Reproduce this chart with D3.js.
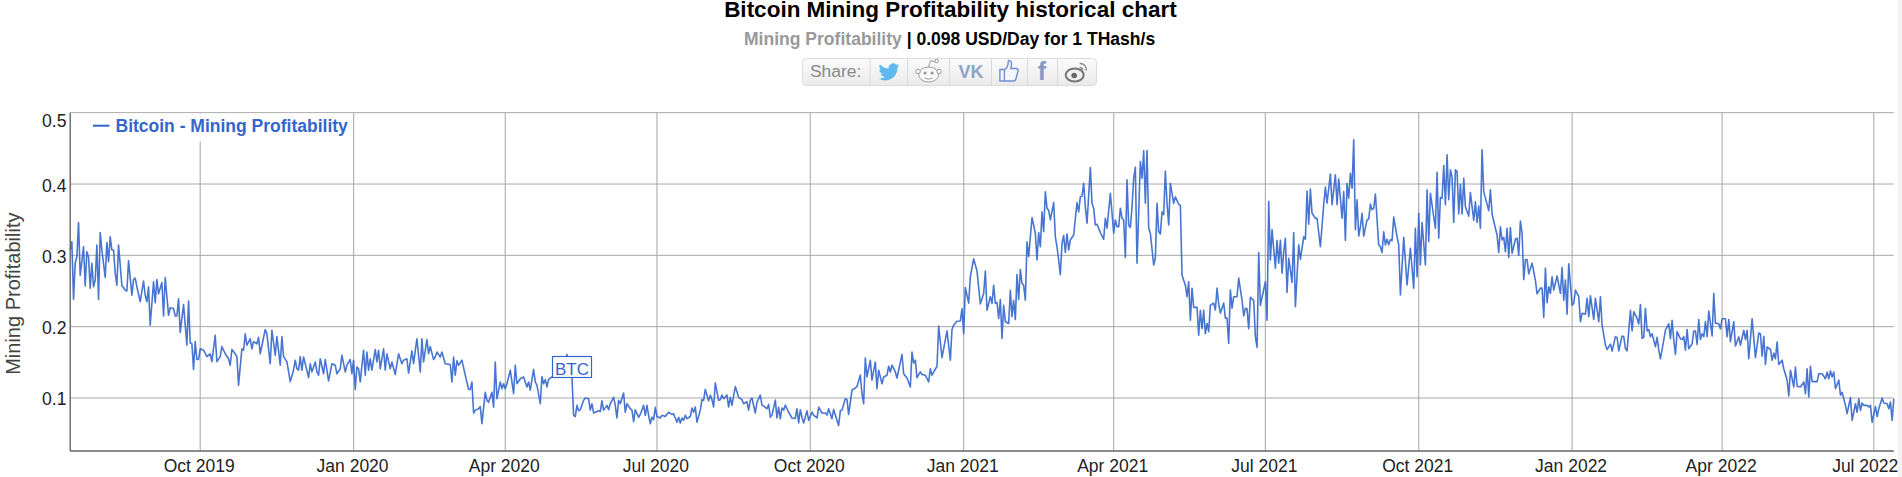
<!DOCTYPE html>
<html>
<head>
<meta charset="utf-8">
<title>Bitcoin Mining Profitability historical chart</title>
<script src="https://cdn.jsdelivr.net/npm/d3@7"></script>
<style>
  html, body { margin: 0; padding: 0; background: #fff; overflow: hidden; }
  svg { display: block; font-family: "Liberation Sans", Arial, sans-serif; }
</style>
</head>
<body>
<div id="chart"></div>
<script>
var seriesStart = "2019-07-15";
var seriesEnd = "2022-07-13";
var seriesName = "Bitcoin - Mining Profitability";
var xTicks = ["2019-10-01","2020-01-01","2020-04-01","2020-07-01","2020-10-01","2021-01-01","2021-04-01","2021-07-01","2021-10-01","2022-01-01","2022-04-01","2022-07-01"];
var yTicks = [0.1, 0.2, 0.3, 0.4, 0.5];
var shareIcons = ["twitter", "reddit", "vk", "like", "facebook", "weibo"];

// days since seriesStart
var dayOffsets = [
0,1,2,3,4,5,6,8,9,10,
11,12,13,14,15,16,17,18,19,21,
22,23,24,25,26,27,28,29,31,33,
34,35,37,38,39,40,42,44,45,46,
47,48,50,51,52,53,55,56,57,59,
60,62,63,64,65,66,68,70,71,72,
73,74,75,76,77,78,80,82,84,85,
87,88,90,91,93,95,96,97,99,100,
101,103,104,105,106,108,109,110,112,113,
114,117,118,120,121,123,124,126,127,128,
130,132,134,135,136,137,138,139,140,141,
143,144,145,147,148,149,150,152,153,155,
157,159,160,162,163,165,166,168,169,170,
171,172,173,174,176,177,178,179,180,181,
183,184,185,186,188,189,190,192,193,195,
197,199,200,202,203,205,206,207,208,210,
211,212,214,215,216,218,219,220,222,223,
225,228,229,230,231,232,233,235,237,239,
240,241,242,243,245,246,247,249,250,251,
253,254,255,256,258,259,260,261,262,264,
266,267,268,270,272,274,275,276,278,279,
280,282,283,284,285,286,287,289,292,295,
296,298,300,301,302,303,304,305,306,308,
309,311,312,313,314,315,317,318,319,320,
322,323,324,326,327,328,329,330,332,333,
334,336,337,338,339,341,342,344,345,346,
347,348,349,350,351,352,354,355,357,359,
361,362,364,365,366,367,368,369,370,372,
373,374,375,376,378,379,380,381,383,384,
385,386,387,389,390,391,392,394,395,396,
397,399,401,403,404,406,407,408,409,411,
412,414,415,417,418,419,420,421,423,424,
425,426,427,428,429,431,433,435,436,437,
438,439,440,442,443,445,446,448,449,451,
453,454,455,457,458,459,461,462,463,465,
466,467,469,471,472,474,475,476,477,478,
480,481,483,484,485,487,488,490,491,492,
493,495,496,499,500,502,504,505,506,507,
508,510,511,513,515,516,517,520,521,523,
526,528,529,530,532,534,535,536,537,539,
540,542,544,546,548,549,550,552,553,554,
555,556,557,558,559,560,561,563,564,565,
566,567,568,569,570,571,572,573,574,575,
577,579,580,581,582,583,584,585,586,587,
588,590,591,592,593,594,595,596,597,598,
599,600,602,604,605,606,607,608,609,610,
612,613,614,615,616,618,620,621,622,624,
626,627,628,629,630,631,632,633,634,635,
636,637,638,639,640,642,643,644,645,646,
647,648,650,651,652,653,654,655,656,657,
658,659,660,662,663,665,666,667,669,670,
671,672,673,674,676,677,678,679,680,681,
682,683,684,686,687,688,689,690,692,693,
694,695,696,697,698,700,701,703,704,705,
706,707,708,710,711,712,713,714,717,718,
719,720,721,723,724,725,726,727,728,729,
730,731,733,734,735,737,738,740,741,742,
743,744,745,747,748,750,752,753,754,756,
757,759,760,761,763,764,765,766,767,768,
769,770,771,772,773,774,775,776,778,779,
780,781,782,783,785,786,787,788,789,790,
791,792,793,794,796,797,798,800,802,804,
806,807,808,809,810,811,813,814,815,816,
818,819,820,821,822,823,824,825,826,827,
828,829,830,831,832,833,834,835,836,837,
839,840,842,843,844,845,846,847,848,851,
852,853,855,856,857,858,859,860,861,862,
863,864,865,867,868,869,870,871,872,873,
874,875,877,879,880,882,883,884,885,886,
887,888,889,890,892,894,895,896,897,898,
899,901,902,903,905,906,907,909,910,911,
912,914,915,917,918,919,921,922,924,925,
927,928,929,931,932,933,934,936,937,938,
940,941,942,943,944,945,946,947,948,949,
951,952,953,954,956,957,959,960,961,962,
963,964,966,967,968,969,970,971,973,974,
975,976,977,978,979,980,981,982,983,985,
986,987,989,990,991,993,994,995,996,998,
999,1001,1002,1004,1005,1006,1007,1009,1011,1013,
1014,1015,1016,1017,1018,1020,1021,1022,1023,1024,
1025,1027,1028,1030,1031,1032,1034,1035,1036,1038,
1040,1041,1042,1043,1044,1045,1048,1049,1051,1053,
1054,1055,1056,1057,1058,1059,1061,1062,1063,1065,
1066,1068,1069,1071,1072,1073,1074,1075,1076,1078,
1079,1080,1081,1083,1084,1085,1087,1088,1090,1091,
1092,1093,1094
];

// USD/Day for 1 THash/s, same order as dayOffsets
var profitability = [
.3075,.319,.238,.289,.298,.346,.272,.312,.257,.305,
.298,.254,.289,.256,.265,.3145,.238,.332,.3075,.269,
.318,.291,.326,.3075,.3075,.275,.258,.3145,.258,.251,
.25,.2925,.244,.266,.268,.256,.235,.264,.244,.235,
.256,.202,.263,.2335,.266,.246,.262,.215,.269,.216,
.2265,.2255,.215,.215,.239,.192,.231,.174,.236,.177,
.176,.14,.179,.154,.154,.169,.167,.158,.162,.151,
.188,.151,.158,.172,.162,.155,.146,.168,.162,.158,
.118,.169,.167,.19,.174,.183,.169,.179,.176,.185,
.162,.196,.19,.148,.195,.16,.186,.146,.186,.158,
.151,.123,.139,.153,.141,.139,.158,.139,.1575,.148,
.1285,.148,.1365,.1505,.1365,.132,.155,.134,.154,.124,
.148,.146,.134,.141,.16,.1365,.146,.154,.134,.153,
.112,.1435,.141,.1225,.167,.132,.1645,.139,.155,.139,
.168,.1505,.167,.141,.169,.139,.162,.141,.1505,.133,
.162,.148,.153,.155,.135,.166,.148,.166,.183,.1365,
.183,.1505,.182,.162,.172,.154,.1575,.1645,.1575,.1645,
.148,.147,.1225,.1575,.132,.152,.146,.153,.132,.112,
.112,.1225,.079,.083,.085,.088,.064,.108,.097,.094,
.108,.087,.1505,.099,.1225,.113,.12,.113,.12,.139,
.106,.146,.12,.127,.1295,.1155,.1225,.111,.14,.1225,
.118,.092,.13,.12,.126,.1155,.126,.1295,.136,.148,
.14,.161,.13,.13,.0757,.074,.0897,.082,.0836,.0967,
.1,.099,.083,.092,.079,.08,.082,.081,.096,.083,
.0897,.0836,.092,.101,.0897,.072,.0967,.092,.107,.08,
.092,.085,.083,.067,.0836,.073,.077,.0897,.0757,.0897,
.0757,.064,.073,.0696,.087,.074,.072,.0757,.074,.08,
.077,.078,.066,.073,.065,.072,.0686,.0757,.071,.074,
.086,.08,.0874,.066,.083,.0977,.0967,.112,.096,.104,
.0977,.0874,.121,.0967,.0977,.104,.099,.104,.0874,.101,
.0897,.116,.101,.0977,.092,.095,.083,.0967,.1,.079,
.094,.104,.09,.087,.085,.091,.073,.076,.097,.072,
.087,.071,.086,.083,.09,.08,.072,.0715,.085,.065,
.0836,.073,.065,.082,.0686,.08,.076,.072,.087,.079,
.079,.076,.085,.071,.084,.076,.0616,.082,.083,.099,
.0977,.077,.111,.114,.116,.132,.106,.092,.156,.1295,
.153,.125,.1505,.113,.139,.12,.1295,.132,.1445,.1365,
.146,.1365,.128,.161,.134,.128,.1155,.1645,.149,.153,
.1285,.1365,.133,.132,.1225,.141,.132,.1445,.201,.1565,
.194,.153,.196,.202,.2076,.208,.225,.19,.255,.233,
.27,.295,.278,.232,.2466,.278,.223,.242,.2326,.258,
.2326,.234,.2115,.238,.1835,.23,.207,.2045,.251,.214,
.237,.21,.273,.238,.28,.2607,.258,.237,.319,.298,
.353,.331,.2934,.332,.312,.361,.333,.389,.366,.363,
.3496,.374,.326,.312,.2934,.273,.317,.3276,.304,.33,
.3075,.3215,.3285,.374,.361,.382,.383,.401,.368,.345,
.423,.373,.366,.3426,.3435,.332,.3225,.352,.338,.387,
.331,.3496,.34,.34,.366,.352,.3496,.297,.406,.3426,
.339,.368,.408,.4235,.289,.4315,.408,.4465,.373,.447,
.338,.331,.2864,.296,.373,.333,.33,.361,.357,.418,
.373,.3426,.401,.373,.382,.3716,.37,.272,.258,.242,
.263,.209,.2537,.227,.227,.188,.223,.1975,.223,.19,
.2045,.193,.23,.233,.2234,.254,.232,.219,.233,.212,
.212,.1766,.2515,.226,.242,.242,.268,.237,.215,.226,
.225,.197,.241,.237,.186,.171,.304,.23,.263,.209,
.3755,.2936,.336,.282,.321,.289,.321,.275,.305,.324,
.248,.296,.262,.332,.228,.3147,.2945,.326,.3226,.39,
.3437,.393,.359,.352,.352,.312,.371,.3956,.373,.414,
.371,.413,.371,.407,.352,.3895,.321,.401,.38,.415,
.394,.462,.336,.378,.327,.34,.359,.327,.35,.351,
.372,.364,.366,.386,.3147,.312,.304,.333,.3147,.3226,
.3147,.3217,.3207,.3535,.326,.3147,.2445,.3254,.2585,.31,
.254,.338,.27,.359,.2866,.346,.2866,.392,.3193,.387,
.354,.338,.4165,.324,.381,.38,.426,.371,.441,.378,
.42,.41,.346,.42,.4175,.358,.3997,.358,.408,.368,
.355,.388,.349,.375,.346,.369,.338,.448,.389,.3627,
.392,.358,.338,.3285,.304,.34,.3215,.325,.305,.338,
.297,.339,.303,.3225,.324,.3,.348,.331,.266,.294,
.294,.274,.289,.265,.246,.254,.254,.213,.282,.2335,
.256,.2466,.27,.2513,.271,.2466,.283,.237,.2654,.2176,
.288,.23,.2326,.2513,.242,.2069,.2186,.2176,.2396,.214,
.2434,.21,.2396,.2069,.242,.202,.174,.168,.1755,.1657,
.186,.185,.166,.187,.1858,.1694,.166,.223,.194,.221,
.2115,.2037,.231,.1835,.185,.2255,.194,.196,.186,.19,
.172,.185,.167,.155,.181,.195,.204,.183,.209,.181,
.161,.193,.183,.182,.186,.167,.196,.169,.176,.194,
.194,.175,.21,.182,.19,.186,.207,.186,.222,.187,
.2465,.205,.204,.197,.211,.211,.186,.21,.179,.2067,
.173,.1856,.174,.195,.182,.195,.155,.211,.1566,.191,
.19,.1585,.1866,.147,.1716,.168,.153,.163,.155,.1786,
.147,.153,.141,.125,.103,.139,.1154,.1435,.1164,.1154,
.1225,.106,.141,.1014,.1445,.123,.123,.134,.134,.127,
.1365,.127,.138,.1295,.1365,.113,.125,.104,.108,.0897,
.078,.1005,.0686,.092,.08,.099,.0827,.093,.0897,.0897,
.0874,.0897,.066,.088,.074,.085,.1,.093,.092,.085,
.0944,.0686,.099
];

var blue = "#3366cc";
var width = 1902, height = 477;
var margin = {left: 70.2, right: 8.2, top: 112.67, bottom: 26};
var parseDay = d3.timeParse("%Y-%m-%d");

var svg = d3.select("#chart").append("svg")
	.attr("width", width)
	.attr("height", height)
	.attr("viewBox", "0 0 " + width + " " + height);

// page scrollbar edge
svg.append("rect").attr("x", 1897.5).attr("y", 0).attr("width", 4.5).attr("height", height).attr("fill", "#f3f3f3");

var xScale = d3.scaleTime()
	.domain([parseDay(seriesStart), parseDay(seriesEnd)])
	.range([margin.left, width - margin.right]);

var yScale = d3.scaleLinear()
	.domain([0.0257, 0.5])
	.range([height - margin.bottom, margin.top]);

// header
svg.append("text")
	.attr("x", 950.4).attr("y", 17)
	.attr("text-anchor", "middle")
	.attr("font-size", 22.5).attr("font-weight", "bold").attr("fill", "#000")
	.text("Bitcoin Mining Profitability historical chart");

var subtitle = svg.append("text")
	.attr("x", 949.6).attr("y", 45)
	.attr("text-anchor", "middle")
	.attr("font-size", 17.55).attr("font-weight", "bold").attr("fill", "#000");
subtitle.append("tspan").attr("fill", "#999").text("Mining Profitability");
subtitle.append("tspan").text(" | 0.098 USD/Day for 1 THash/s");

// share bar
var grad = svg.append("defs").append("linearGradient")
	.attr("id", "shareGrad").attr("x1", 0).attr("y1", 0).attr("x2", 0).attr("y2", 1);
grad.append("stop").attr("offset", "0%").attr("stop-color", "#fbfbfb");
grad.append("stop").attr("offset", "100%").attr("stop-color", "#eaeaea");

var share = svg.append("g");
share.append("rect")
	.attr("x", 802.5).attr("y", 58.5).attr("width", 294).attr("height", 27).attr("rx", 4)
	.attr("fill", "url(#shareGrad)").attr("stroke", "#dcdcdc");
share.append("text")
	.attr("x", 810).attr("y", 77.3)
	.attr("font-size", 17.4).attr("fill", "#8a8a8a")
	.text("Share:");

var dividers = [870, 907.5, 949.5, 991.5, 1027.5, 1057.5];
share.selectAll("line").data(dividers).enter().append("line")
	.attr("x1", function(d){ return d }).attr("x2", function(d){ return d })
	.attr("y1", 59).attr("y2", 85)
	.attr("stroke", "#dadada");

var iconCentres = [889, 928.6, 971, 1008.9, 1042, 1076.7];
var iconGroups = share.selectAll(".icon").data(shareIcons).enter().append("g")
	.attr("class", function(d){ return "icon icon-" + d })
	.attr("transform", function(d, i){ return "translate(" + iconCentres[i] + ",71.5)" });

svg.select(".icon-twitter").append("path")
	.attr("transform", "translate(-10.5,-10) scale(0.875)")
	.attr("fill", "#5cb8ee")
	.attr("d", "M23.953 4.57a10 10 0 01-2.825.775 4.958 4.958 0 002.163-2.723c-.951.555-2.005.959-3.127 1.184a4.92 4.92 0 00-8.384 4.482C7.69 8.095 4.067 6.13 1.64 3.162a4.822 4.822 0 00-.666 2.475c0 1.71.87 3.213 2.188 4.096a4.904 4.904 0 01-2.228-.616v.06a4.923 4.923 0 003.946 4.827 4.996 4.996 0 01-2.212.085 4.936 4.936 0 004.604 3.417 9.867 9.867 0 01-6.102 2.105c-.39 0-.779-.023-1.17-.067a13.995 13.995 0 007.557 2.209c9.053 0 13.998-7.496 13.998-13.985 0-.21 0-.42-.015-.63A9.935 9.935 0 0024 4.59z");

var reddit = svg.select(".icon-reddit").attr("fill", "none").attr("stroke", "#9a9a9a").attr("stroke-width", 1);
reddit.append("ellipse").attr("cx", 0).attr("cy", 3).attr("rx", 10).attr("ry", 7.5).attr("fill", "#fafafa");
reddit.append("circle").attr("cx", -10.5).attr("cy", 0).attr("r", 2.2).attr("fill", "#fafafa");
reddit.append("circle").attr("cx", 10.5).attr("cy", 0).attr("r", 2.2).attr("fill", "#fafafa");
reddit.append("circle").attr("cx", -3.5).attr("cy", 1.5).attr("r", 1.6).attr("fill", "#999").attr("stroke", "none");
reddit.append("circle").attr("cx", 3.5).attr("cy", 1.5).attr("r", 1.6).attr("fill", "#999").attr("stroke", "none");
reddit.append("path").attr("d", "M-4 6.5q4 2.5 8 0M0 -4.5l2 -6.5 5 1.5");
reddit.append("circle").attr("cx", 8).attr("cy", -10.5).attr("r", 1.8).attr("fill", "#fafafa");

svg.select(".icon-vk").append("text")
	.attr("text-anchor", "middle").attr("y", 6.5)
	.attr("font-size", 18).attr("font-weight", "bold").attr("fill", "#8ea3c6")
	.text("VK");

svg.select(".icon-like").append("path")
	.attr("d", "M-9 -2h4.5v11.5h-4.5zM-4.5 -1.5c3 -2 4 -5.5 4 -9.5 2.5 -.5 3.5 2 3 5l-.5 3h5.5c1.5 0 2 1.5 1.5 3l-2 7.5c-.3 1.2 -1 2 -2.5 2h-9")
	.attr("fill", "#f4f6fb").attr("stroke", "#6f8fce").attr("stroke-width", 1.4);

svg.select(".icon-facebook").append("text")
	.attr("text-anchor", "middle").attr("y", 8.5)
	.attr("font-size", 25).attr("font-weight", "bold").attr("fill", "#8599c4")
	.text("f");

var weibo = svg.select(".icon-weibo").attr("fill", "none");
weibo.append("ellipse").attr("cx", -2).attr("cy", 3.5).attr("rx", 9).attr("ry", 6.5).attr("fill", "#f0f0f0").attr("stroke", "#777").attr("stroke-width", 2);
weibo.append("circle").attr("cx", -2.5).attr("cy", 4).attr("r", 2.8).attr("fill", "#666");
weibo.append("path").attr("d", "M3 -8a6 6 0 0 1 6.5 7M3 -4a3 3 0 0 1 3 3").attr("stroke", "#888").attr("stroke-width", 1.4);

// gridlines
var xGrid = d3.axisBottom(xScale)
	.tickValues(xTicks.map(parseDay))
	.tickSize(yScale(0.0257) - yScale(0.5))
	.tickFormat("")
	.offset(0);

svg.append("g")
	.attr("transform", "translate(0," + margin.top + ")")
	.call(xGrid)
	.call(function(g){
		g.select(".domain").remove();
		g.selectAll("line").attr("stroke", "#b4b4b4").attr("stroke-width", 1.2);
	});

var yGrid = d3.axisLeft(yScale)
	.tickValues(yTicks)
	.tickSize(-(width - margin.left - margin.right))
	.tickFormat("")
	.offset(0);

svg.append("g")
	.attr("transform", "translate(" + margin.left + ",0)")
	.call(yGrid)
	.call(function(g){
		g.select(".domain").remove();
		g.selectAll("line").attr("stroke", "#a8a8a8").attr("stroke-width", 1);
	});

// series
var points = dayOffsets.map(function(d, i){
	return {date: d3.timeDay.offset(parseDay(seriesStart), d), value: profitability[i]};
});

var line = d3.line()
	.x(function(d){ return xScale(d.date) })
	.y(function(d){ return yScale(d.value) });

svg.append("path")
	.datum(points)
	.attr("fill", "none")
	.attr("stroke", blue)
	.attr("stroke-width", 1.6)
	.attr("stroke-linejoin", "round")
	.attr("opacity", 0.9)
	.attr("d", line);

// axes
var xAxis = d3.axisBottom(xScale)
	.tickValues(xTicks.map(parseDay))
	.tickSize(0)
	.tickFormat(d3.timeFormat("%b %Y"))
	.offset(0);

svg.append("g")
	.attr("transform", "translate(0," + yScale(0.0257) + ")")
	.call(xAxis)
	.call(function(g){
		g.select(".domain").attr("stroke", "#666").attr("stroke-width", 1.4);
		g.selectAll("text")
			.attr("font-family", "Liberation Sans, Arial, sans-serif")
			.attr("font-size", 17.5)
			.attr("fill", "#222")
			.attr("y", 20.7)
			.attr("dy", 0)
			.attr("dx", function(d, i){ return i === xTicks.length - 1 ? -8.6 : -1 });
	});

var yAxis = d3.axisLeft(yScale)
	.tickValues(yTicks)
	.tickSize(0)
	.tickPadding(3.7)
	.tickFormat(d3.format(".1f"))
	.offset(0);

svg.append("g")
	.attr("transform", "translate(" + margin.left + ",0)")
	.call(yAxis)
	.call(function(g){
		g.select(".domain").attr("stroke", "#666").attr("stroke-width", 1.4);
		g.selectAll("text")
			.attr("font-family", "Liberation Sans, Arial, sans-serif")
			.attr("font-size", 17.6)
			.attr("fill", "#222")
			.attr("dy", 0)
			.attr("y", function(d){ return d === 0.5 ? 14 : 7.5 });
	});

svg.append("text")
	.attr("transform", "translate(19.6,293.7) rotate(-90)")
	.attr("text-anchor", "middle")
	.attr("font-size", 20)
	.attr("fill", "#444")
	.text("Mining Profitability");

// legend
svg.append("rect").attr("x", 71).attr("y", 113.5).attr("width", 280).attr("height", 28).attr("fill", "#fff").attr("opacity", 0.9);
svg.append("line")
	.attr("x1", 93).attr("x2", 109.4)
	.attr("y1", 125.7).attr("y2", 125.7)
	.attr("stroke", blue).attr("stroke-width", 2);
svg.append("text")
	.attr("x", 115.5).attr("y", 132)
	.attr("font-size", 17.5).attr("font-weight", "bold").attr("fill", blue)
	.text(seriesName);

// BTC flag sits on the line
svg.append("rect")
	.attr("x", 552.5).attr("y", 356.5).attr("width", 39).attr("height", 21)
	.attr("fill", "#fff").attr("stroke", blue).attr("stroke-width", 1.2);
svg.append("text")
	.attr("x", 572).attr("y", 374.6)
	.attr("text-anchor", "middle")
	.attr("font-size", 17).attr("fill", blue)
	.text("BTC");
</script>
</body>
</html>
